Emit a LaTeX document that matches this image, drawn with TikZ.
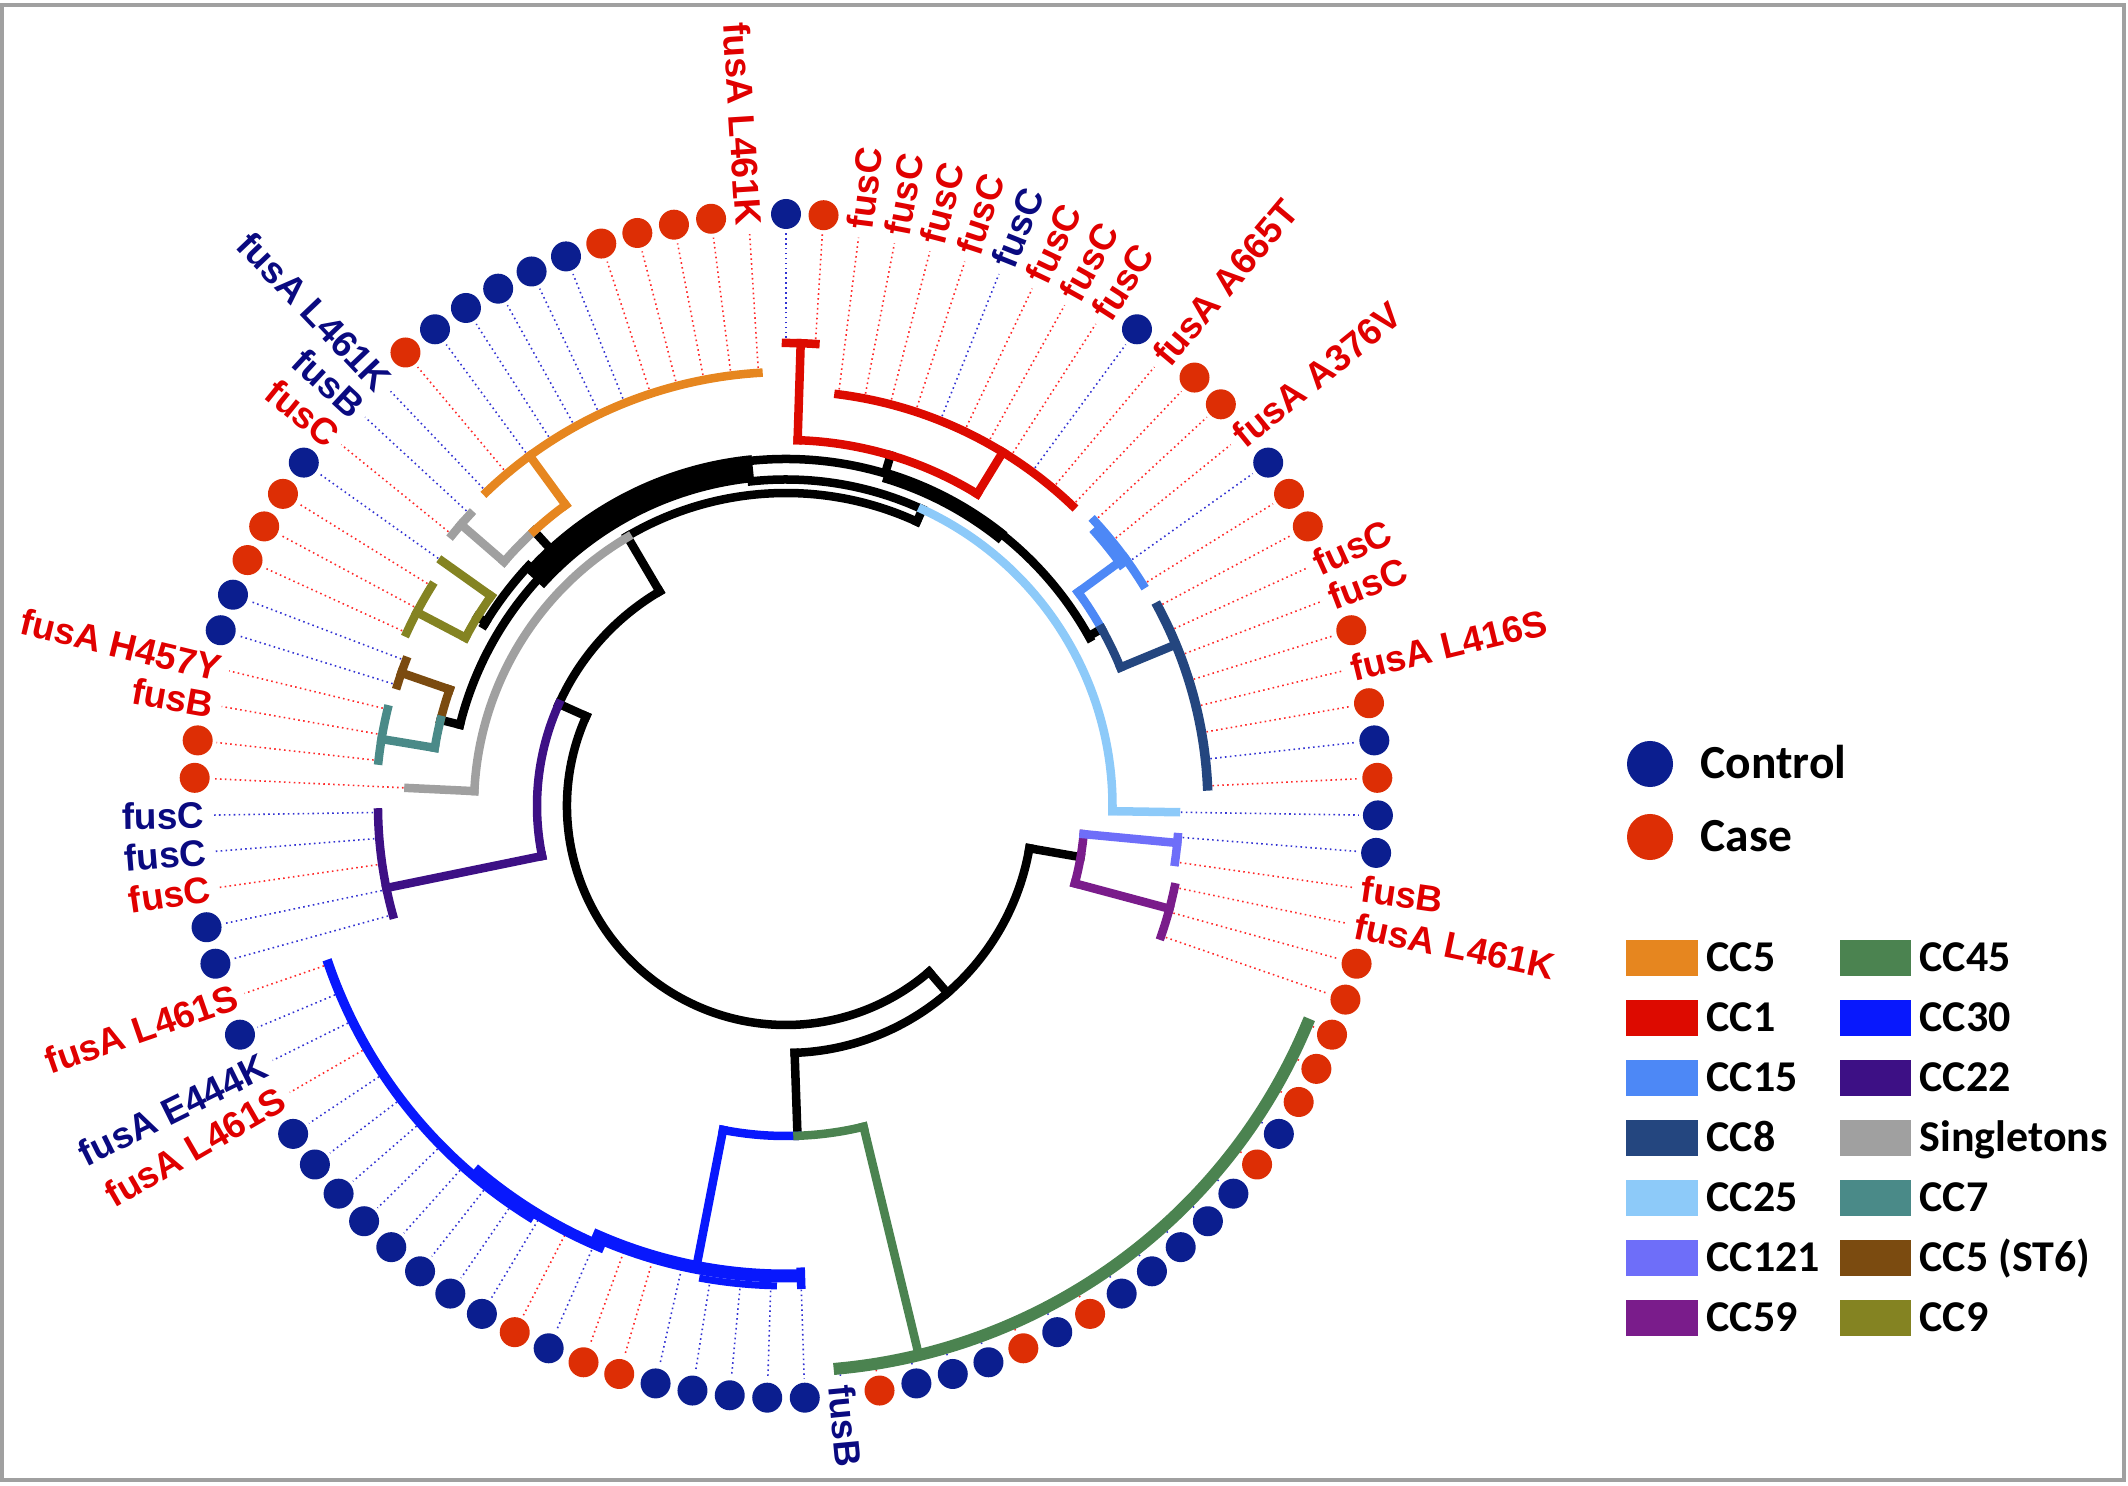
\documentclass[tikz,border=0pt]{standalone}
\usepackage{fontspec}
\setmainfont{Liberation Sans}
\newfontfamily\legendfont{Carlito}
\usepackage{tikz}

\definecolor{Dctl}{HTML}{0B1E8F}
\definecolor{Dcas}{HTML}{DD2E05}
\definecolor{Lctl}{HTML}{3232D2}
\definecolor{Lcas}{HTML}{FF2828}
\definecolor{Tctl}{HTML}{0A0A80}
\definecolor{Tcas}{HTML}{E00000}
\definecolor{cc5}{HTML}{E6861F}
\definecolor{cc1}{HTML}{DD0A00}
\definecolor{cc15}{HTML}{4D88F6}
\definecolor{cc8}{HTML}{24467F}
\definecolor{cc25}{HTML}{8DCAF9}
\definecolor{cc121}{HTML}{6E6EF9}
\definecolor{cc59}{HTML}{7A1C8B}
\definecolor{cc45}{HTML}{4B8350}
\definecolor{cc30}{HTML}{0818FD}
\definecolor{cc22}{HTML}{3D1085}
\definecolor{sgl}{HTML}{A0A0A0}
\definecolor{cc7}{HTML}{4A8A88}
\definecolor{cc5st}{HTML}{7B4B10}
\definecolor{cc9}{HTML}{848322}
\definecolor{framegray}{HTML}{A0A0A0}

% arc: colour, radius, from, to -- radial: colour, angle, from, to
\newcommand{\carc}[4]{\draw[br, #1] (#3:#2) arc[start angle=#3, end angle=#4, radius=#2];}
\newcommand{\crad}[4]{\draw[br, #1] (#2:#3) -- (#2:#4);}

\begin{document}
\begin{tikzpicture}[x=0.01cm, y=0.01cm,
  br/.style={line width=0.085cm, line cap=rect},
  leader/.style={line width=0.45pt, dash pattern=on 0.45pt off 0.95pt},
  lab/.style={inner sep=0pt, font=\fontsize{10.5}{12}\selectfont\bfseries},
  legdot/.style={circle, inner sep=0pt, minimum size=0.46cm},
  legbox/.style={rectangle, inner sep=0pt, minimum width=0.71cm, minimum height=0.35cm},
  legtxt/.style={anchor=base west, inner sep=0pt, font=\legendfont\bfseries\fontsize{12.5}{15}\selectfont}]
\useasboundingbox (-786,-680) rectangle (1342,806);
\draw[framegray, line width=0.045cm] (-784,-674) rectangle (1338,801);

%leaders and dots
\foreach \k/\tip/\c/\m in {1/463/ctl/1, 2/463/cas/1,
  3/415/cas/0, 4/415/cas/0, 5/415/cas/0, 6/415/cas/0, 7/415/ctl/0, 8/415/cas/0, 9/415/cas/0, 10/415/cas/0,
  11/415/ctl/1, 12/415/cas/0, 13/415/cas/1,
  14/420/cas/1, 15/420/cas/0, 16/420/ctl/1, 17/420/cas/1,
  18/422/cas/1, 19/422/cas/0, 20/422/cas/0, 21/422/cas/1, 22/422/cas/0, 23/422/cas/1, 24/422/ctl/1, 25/422/cas/1,
  26/390/ctl/1, 27/393/ctl/1, 28/393/cas/0,
  29/397/cas/0, 30/397/cas/1, 31/397/cas/1,
  32/566/cas/1, 33/566/cas/1, 34/566/cas/1, 35/566/ctl/1, 36/566/cas/1, 37/566/ctl/1, 38/566/ctl/1, 39/566/ctl/1,
  40/566/ctl/1, 41/566/ctl/1, 42/566/cas/1, 43/566/ctl/1, 44/566/cas/1, 45/566/ctl/1, 46/566/ctl/1, 47/566/ctl/1,
  48/566/cas/1, 49/566/ctl/0,
  50/479/ctl/1, 51/480/ctl/1, 52/480/ctl/1, 53/480/ctl/1,
  54/470/ctl/1, 55/470/cas/1, 56/470/cas/1, 57/470/ctl/1, 58/478/cas/1, 59/478/ctl/1,
  60/484/ctl/1, 61/484/ctl/1, 62/484/ctl/1, 63/484/ctl/1, 64/484/ctl/1, 65/484/ctl/1, 66/484/ctl/1,
  67/484/cas/0, 68/484/ctl/0, 69/484/ctl/1, 70/484/cas/0,
  71/408/ctl/1, 72/408/ctl/1, 73/408/cas/0, 74/408/ctl/0, 75/408/ctl/0,
  76/378/cas/1, 77/410/cas/1, 78/410/cas/0, 79/410/cas/0,
  80/407/ctl/1, 81/407/ctl/1, 82/417/cas/1, 83/417/cas/1, 84/417/cas/1,
  85/422/ctl/1, 86/430/cas/0, 87/430/ctl/0,
  88/434/ctl/0, 89/434/cas/1, 90/434/ctl/1, 91/434/ctl/1, 92/434/ctl/1, 93/434/ctl/1, 94/434/ctl/1,
  95/434/cas/1, 96/434/cas/1, 97/434/cas/1, 98/434/cas/1, 99/434/cas/0}{
  \pgfmathsetmacro\ang{90-(\k-1)*3.636364}
  \draw[leader, draw=L\c] (\ang:\tip) -- (\ang:573);
  \ifnum\m=1 \fill[fill=D\c] (\ang:592) circle[radius=15]; \fi
}

%backbone
\carc{black}{219}{155.8}{310.8}
\crad{black}{-49.2}{219}{247}
\carc{black}{247}{-88}{-9.85}
\crad{black}{-9.85}{247}{299}
\crad{black}{-88}{247}{330}
\crad{black}{155.8}{219}{249}
\carc{black}{249}{120.5}{155.8}
\crad{black}{120.5}{249}{313}
\carc{black}{313}{65.3}{120.5}
\crad{black}{65.3}{313}{326.5}
\carc{black}{326.5}{65.3}{96}
\carc{black}{347}{29}{96}
\carc{black, line width=0.14cm, line cap=butt}{345}{51}{73.5}
\carc{black, line width=0.27cm, line cap=butt}{339}{95.6}{138}
\carc{black}{336}{137}{166}
\carc{black}{352}{137}{149}
\crad{black}{166}{336}{356}
\crad{black}{148.5}{352}{362}
\crad{black}{132.5}{350}{373}
\crad{black}{73.4}{350}{366}
\crad{black}{29.3}{349}{362}

%singletons
\carc{sgl}{312}{120.5}{177.27}
\crad{sgl}{177.27}{312}{378}
\carc{sgl}{373}{132.5}{139.1}
\crad{sgl}{139.1}{373}{430}
\carc{sgl}{430}{137.27}{140.91}

%CC5
\carc{cc5}{373}{126.2}{132.5}
\crad{cc5}{126.2}{373}{434}
\carc{cc5}{434}{93.64}{133.64}

%CC9
\carc{cc9}{362}{144.55}{152.3}
\crad{cc9}{144.55}{362}{422}
\crad{cc9}{152.3}{362}{417}
\carc{cc9}{417}{148.18}{155.45}

%CC5 (ST6) and CC7
\carc{cc5st}{356}{160.9}{166}
\crad{cc5st}{160.9}{356}{407}
\carc{cc5st}{407}{159.09}{162.73}
\carc{cc7}{356}{166}{170.6}
\crad{cc7}{170.6}{356}{410}
\carc{cc7}{410}{166.36}{173.64}

%CC22
\carc{cc22}{249}{155.8}{191.6}
\crad{cc22}{191.6}{249}{408}
\carc{cc22}{408}{180.91}{195.45}

%CC1
\carc{cc1}{366}{58.5}{88.18}
\crad{cc1}{88.18}{366}{463}
\carc{cc1}{463}{86.36}{90}
\crad{cc1}{58.5}{366}{415}
\carc{cc1}{415}{46.36}{82.73}

%CC15 and CC8
\carc{cc15}{362}{29.3}{36.2}
\crad{cc15}{36.2}{362}{420}
\carc{cc15}{420}{31.82}{42.73}
\carc{cc15}{413}{35.8}{41.5}
\carc{cc8}{362}{22.5}{29.3}
\crad{cc8}{22.5}{362}{422}
\carc{cc8, line width=0.095cm}{422}{2.73}{28.18}

%CC25
\carc{cc25}{326.5}{-0.91}{65.3}
\crad{cc25}{-0.91}{326.5}{390}

%CC121 and CC59
\carc{cc59}{299}{-15}{-5.4}
\crad{cc121}{-5.4}{299}{393}
\carc{cc121}{393}{-8.18}{-4.55}
\crad{cc59}{-15}{299}{397}
\carc{cc59}{397}{-19.09}{-11.82}

%CC30 and CC45
\carc{cc30}{330}{-101}{-88}
\carc{cc45}{330}{-88}{-76.4}
\crad{cc45}{-76.4}{330}{565}
\carc{cc45, line width=0.12cm}{565}{-84.55}{-22.73}
\crad{cc30}{-101}{330}{470}
\carc{cc30, line width=0.095cm}{484}{-160.91}{-122}
\carc{cc30, line width=0.11cm}{478}{-130}{-113}
\carc{cc30, line width=0.13cm}{470}{-113.5}{-89}
\carc{cc30, line width=0.07cm}{480}{-100}{-91.5}
\crad{cc30}{-88.18}{466}{479}

%labels, right half
\foreach \k/\c/\txt in {3/cas/fusC, 4/cas/fusC, 5/cas/fusC, 6/cas/fusC, 7/ctl/fusC, 8/cas/fusC, 9/cas/fusC,
  10/cas/fusC, 12/cas/fusA A665T, 15/cas/fusA A376V, 19/cas/fusC, 20/cas/fusC, 22/cas/fusA L416S,
  28/cas/fusB, 29/cas/fusA L461K, 49/ctl/fusB}{
  \pgfmathsetmacro\ang{90-(\k-1)*3.636364}
  \node[lab, text=T\c, rotate=\ang, anchor=west] (lab\k) at (\ang:581) {\txt};
}
%labels, left half
\foreach \k/\c/\txt in {67/cas/fusA L461S, 68/ctl/fusA E444K, 70/cas/fusA L461S, 73/cas/fusC, 74/ctl/fusC,
  75/ctl/fusC, 78/cas/fusB, 79/cas/fusA H457Y, 86/cas/fusC, 87/ctl/fusB, 88/ctl/fusA L461K, 99/cas/fusA L461K}{
  \pgfmathsetmacro\ang{90-(\k-1)*3.636364}
  \pgfmathsetmacro\rot{\ang+180}
  \node[lab, text=T\c, rotate=\rot, anchor=east] (lab\k) at (\ang:581) {\txt};
}

%legend
\node[legdot, fill=Dctl] (ctldot) at (864,42) {};
\node[legtxt, font=\legendfont\bfseries\fontsize{13.5}{16}\selectfont] (ctltxt) at (914,27) {Control};
\node[legdot, fill=Dcas] (casdot) at (864,-31) {};
\node[legtxt, font=\legendfont\bfseries\fontsize{13.5}{16}\selectfont] (castxt) at (914,-46) {Case};
\foreach \i/\c/\txt in {0/cc5/CC5, 1/cc1/CC1, 2/cc15/CC15, 3/cc8/CC8, 4/cc25/CC25, 5/cc121/CC121, 6/cc59/CC59}{
  \pgfmathsetmacro\yy{-152-60*\i}
  \node[legbox, fill=\c] (boxL\i) at (876,\yy) {};
  \node[legtxt] (txtL\i) at (920,\yy-14) {\txt};
}
\foreach \i/\c/\txt in {0/cc45/CC45, 1/cc30/CC30, 2/cc22/CC22, 3/sgl/Singletons, 4/cc7/CC7, 5/cc5st/CC5 (ST6), 6/cc9/CC9}{
  \pgfmathsetmacro\yy{-152-60*\i}
  \node[legbox, fill=\c] (boxR\i) at (1089,\yy) {};
  \node[legtxt] (txtR\i) at (1133,\yy-14) {\txt};
}
\end{tikzpicture}
\end{document}
